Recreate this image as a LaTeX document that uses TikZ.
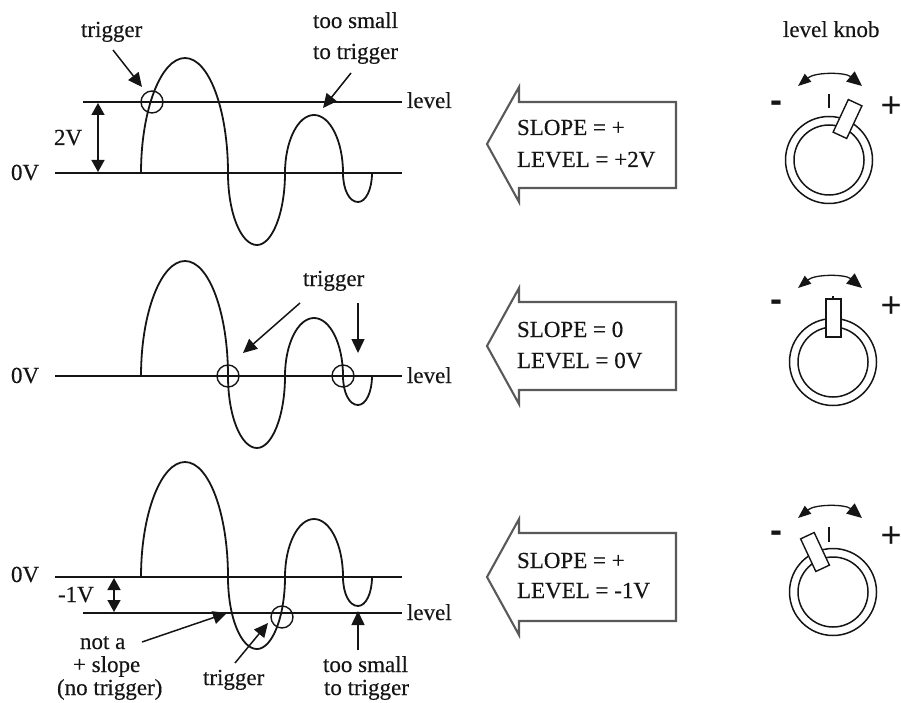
\documentclass[tikz,border=0pt]{standalone}
\usepackage{fontspec}
\setmainfont{Liberation Serif}
\newfontfamily\labfont[RawFeature={embolden=0.35}]{Liberation Serif}
\newfontfamily\symfont{Liberation Sans}
\usetikzlibrary{arrows.meta,calc}
\definecolor{ink}{HTML}{151515}
\tikzset{
  lab/.style={anchor=base west,inner sep=0pt,outer sep=0pt,text=ink,font=\labfont\fontsize{23}{23}\selectfont},
  line/.style={draw=ink,line width=1.7pt},
  arr/.style={draw=ink,line width=1.5pt,-{Triangle[length=14pt,width=13pt]}},
  dbl/.style={draw=ink,line width=1.6pt,{Triangle[length=12pt,width=13pt]}-{Triangle[length=12pt,width=13pt]}},
  mark circle/.style={circle,draw=ink,line width=1.4pt,minimum size=22pt,inner sep=0pt},
  bigarrow/.style={draw=black!65,line width=2.1pt,line join=miter,fill=white},
  ring/.style={draw=ink,line width=1.5pt},
  paddle/.style={draw=ink,line width=1.4pt,fill=white,minimum width=15pt,minimum height=36pt,inner sep=0pt},
  swing/.style={draw=ink,line width=1.3pt,{Triangle[length=13pt,width=10pt]}-{Triangle[length=15pt,width=13pt]}},
  tickline/.style={draw=ink,line width=1.3pt},
  sym/.style={inner sep=0pt,text=ink,font=\symfont\fontsize{36}{36}\selectfont},
  symb/.style={inner sep=0pt,text=ink,font=\symfont\bfseries\fontsize{36}{36}\selectfont},
  wave/.pic={
    \draw[draw=ink,line width=1.8pt,line join=round]
      (0,0) .. controls (0,-63) and (20,-115) .. (44,-115)
      .. controls (68,-115) and (87,-63) .. (87,0)
      .. controls (87,40) and (100,72) .. (116,72)
      .. controls (131,72) and (144,40) .. (144,0)
      .. controls (144,-32) and (157,-58) .. (173,-58)
      .. controls (189,-58) and (202,-32) .. (202,0)
      .. controls (202,16) and (208,29) .. (217,29)
      .. controls (225,29) and (231,16) .. (231,0);
  }
}
\begin{document}
\begin{tikzpicture}[x=1pt,y=-1pt]
\useasboundingbox (0,0) rectangle (901,703);
% ---------- panel 1
\coordinate (zeroAl) at (55,173); \coordinate (zeroAr) at (402,173);
\coordinate (levAl) at (83,102); \coordinate (levAr) at (402,102);
\draw[line] (zeroAl) -- (zeroAr);
\draw[line] (levAl) -- (levAr);
\pic at (141,173) {wave};
\node[mark circle] (cA) at (152,102) {};
\coordinate (volAt) at (98,103); \coordinate (volAb) at (98,172);
\draw[dbl] (volAt) -- (volAb);
\node[lab] (twoV) at (54,145) {2V};
\node[lab] (zeroA) at (11,180) {0V};
\node[lab] (levA) at (407,108) {level};
\node[lab] (trigA) at (81,37) {trigger};
\coordinate (trigAs) at (113,50); \coordinate (trigAe) at (142,87);
\draw[arr] (trigAs) -- (trigAe);
\node[lab] (smallAa) at (313,28) {too small};
\node[lab] (smallAb) at (313,59) {to trigger};
\coordinate (smallAs) at (351,73); \coordinate (smallAe) at (323,108);
\draw[arr] (smallAs) -- (smallAe);
% ---------- panel 2
\coordinate (zeroBl) at (55,376); \coordinate (zeroBr) at (402,376);
\draw[line] (zeroBl) -- (zeroBr);
\pic at (141,376) {wave};
\node[mark circle] (cBa) at (228,376) {};
\node[mark circle] (cBb) at (343,376) {};
\node[lab] (zeroB) at (11,383) {0V};
\node[lab] (levB) at (407,383) {level};
\node[lab] (trigB) at (303,286) {trigger};
\coordinate (trigBs) at (300,303); \coordinate (trigBe) at (243,353);
\coordinate (trigBt) at (358,303); \coordinate (trigBf) at (358,353);
\draw[arr] (trigBs) -- (trigBe);
\draw[arr] (trigBt) -- (trigBf);
% ---------- panel 3
\coordinate (zeroCl) at (55,577); \coordinate (zeroCr) at (402,577);
\coordinate (levCl) at (83,613); \coordinate (levCr) at (402,613);
\draw[line] (zeroCl) -- (zeroCr);
\draw[line] (levCl) -- (levCr);
\pic at (141,577) {wave};
\node[mark circle] (cC) at (282,617) {};
\coordinate (volCt) at (114,578); \coordinate (volCb) at (114,612);
\draw[dbl] (volCt) -- (volCb);
\node[lab] (zeroC) at (11,582) {0V};
\node[lab] (minusV) at (58,602) {-1V};
\node[lab] (levC) at (407,620) {level};
\node[lab] (notA) at (80,649) {not a};
\node[lab] (notB) at (73,672) {+ slope};
\node[lab] (notC) at (57,695) {(no trigger)};
\node[lab] (trigC) at (203,685) {trigger};
\node[lab] (smallCa) at (323,672) {too small};
\node[lab] (smallCb) at (324,695) {to trigger};
\coordinate (notAs) at (142,642); \coordinate (notAe) at (227,613);
\coordinate (trigCs) at (235,663); \coordinate (trigCe) at (268,623);
\coordinate (smallCs) at (358,650); \coordinate (smallCe) at (358,611);
\draw[arr] (notAs) -- (notAe);
\draw[arr] (trigCs) -- (trigCe);
\draw[arr] (smallCs) -- (smallCe);
% ---------- big arrows
\draw[bigarrow] (487,144) -- (519,87) -- (519,102) -- (676,102) -- (676,188) -- (519,188) -- (519,202) -- cycle;
\node[lab] (slopeA) at (517,135) {SLOPE = +};
\node[lab] (levelA) at (517,167) {LEVEL = +2V};
\draw[bigarrow] (487,346) -- (519,288) -- (519,302) -- (676,302) -- (676,390) -- (519,390) -- (519,404) -- cycle;
\node[lab] (slopeB) at (517,337) {SLOPE = 0};
\node[lab] (levelB) at (517,368) {LEVEL = 0V};
\draw[bigarrow] (487,577) -- (519,519) -- (519,533) -- (676,533) -- (676,621) -- (519,621) -- (519,635) -- cycle;
\node[lab] (slopeC) at (517,568) {SLOPE = +};
\node[lab] (levelC) at (517,598) {LEVEL = -1V};
% ---------- knobs
\node[lab] (knobTitle) at (783,37) {level knob};
% knob 1
\draw[ring] (829,160) circle[radius=43.5];
\draw[ring] (829,160) circle[radius=35];
\coordinate (tickAt) at (829,94); \coordinate (tickAb) at (829,108);
\draw[tickline] (tickAt) -- (tickAb);
\node[paddle,rotate=-25] (padA) at (847.5,119) {};
\coordinate (swAl) at (798,86); \coordinate (swAr) at (862,86);
\draw[swing] (swAl) .. controls (815,72) and (845,72) .. (swAr);
\node[symb] (minA) at (776,107) {-};
\node[sym] (plusA) at (891,107) {+};
% knob 2
\draw[ring] (833,362) circle[radius=43.5];
\draw[ring] (833,362) circle[radius=35];
\coordinate (tickBt) at (833,296); \coordinate (tickBb) at (833,300);
\draw[tickline] (tickBt) -- (tickBb);
\node[paddle,minimum height=38pt] (padB) at (833.5,318) {};
\coordinate (swBl) at (798,288); \coordinate (swBr) at (862,288);
\draw[swing] (swBl) .. controls (815,274) and (845,274) .. (swBr);
\node[symb] (minB) at (776,306) {-};
\node[sym] (plusB) at (891,307) {+};
% knob 3
\draw[ring] (833,592) circle[radius=43.5];
\draw[ring] (833,592) circle[radius=35];
\coordinate (tickCt) at (829,527); \coordinate (tickCb) at (829,542);
\draw[tickline] (tickCt) -- (tickCb);
\node[paddle,rotate=25] (padC) at (815,552) {};
\coordinate (swCl) at (798,518); \coordinate (swCr) at (862,518);
\draw[swing] (swCl) .. controls (815,504) and (845,504) .. (swCr);
\node[symb] (minC) at (776,537) {-};
\node[sym] (plusC) at (891,537) {+};
\end{tikzpicture}
\end{document}
